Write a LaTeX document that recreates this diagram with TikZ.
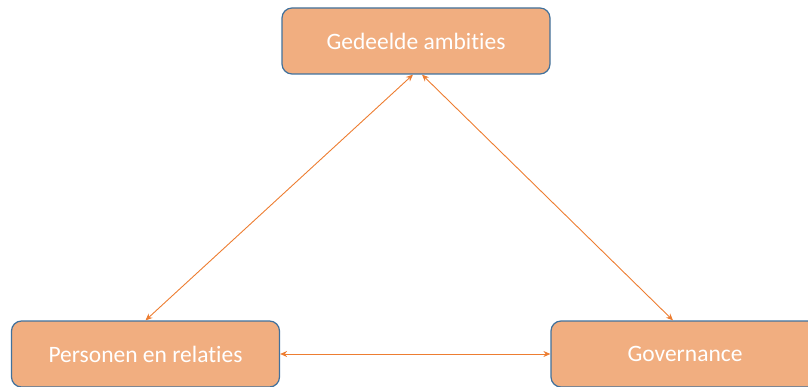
\documentclass[tikz,border=0pt]{standalone}
\usepackage{fontspec}
\setmainfont{Carlito}[Ligatures=NoCommon]
\usetikzlibrary{arrows.meta,positioning}
\definecolor{boxfill}{HTML}{F1AE80}
\definecolor{boxline}{HTML}{41719C}
\definecolor{linkcol}{HTML}{ED7D31}
\tikzset{
  theme/.style={draw=boxline, line width=1.2pt, fill=boxfill, rounded corners=10pt,
    minimum width=268pt, minimum height=66pt, text=white, font=\fontsize{23.5}{28}\selectfont},
  link/.style={draw=linkcol, line width=0.9pt, {Stealth[length=7pt,width=6pt]}-{Stealth[length=7pt,width=6pt]}}
}
\begin{document}
\begin{tikzpicture}[x=1pt,y=-1pt]
\useasboundingbox (0,0) rectangle (808,387);

% blokken
\node[theme] (ambities) at (416,41) {Gedeelde ambities};
\node[theme] (personen) at (145.5,354) {Personen en relaties};
\node[theme] (governance) at (685,354) {Governance};

% verbindingen
\draw[link] ([xshift=-3pt]ambities.south) -- (personen.north);
\draw[link] ([xshift=6pt]ambities.south) -- ([xshift=-12pt]governance.north);
\draw[link] (personen.east) -- (governance.west);

\end{tikzpicture}
\end{document}
